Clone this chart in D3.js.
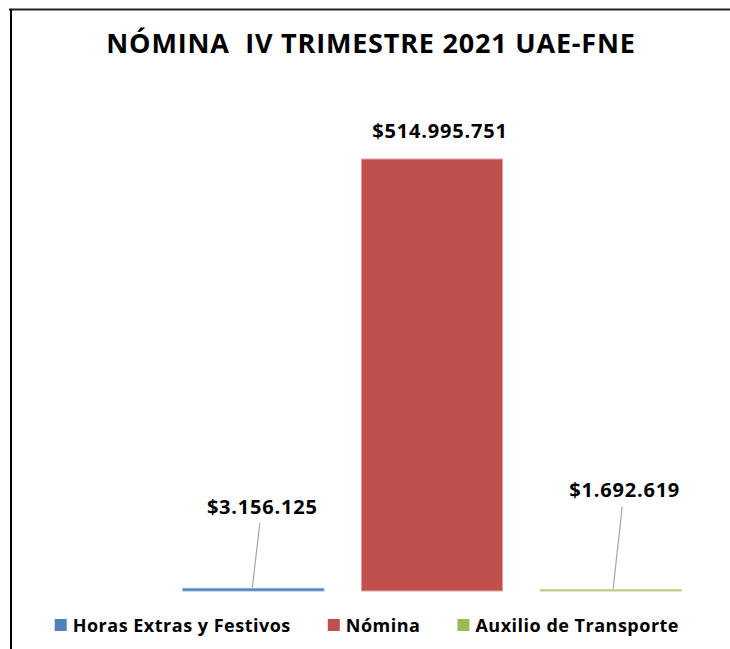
<html>

<body>
    <svg id='viz'></svg>
</body>
<style>
    body {
        margin: 0;
        background: #fff;
    }

    svg {
        display: block;
    }

    text {
        font-family: 'Open Sans', sans-serif;
        font-weight: bold;
        fill: #000;
        white-space: pre;
    }
</style>
<script src='https://d3js.org/d3.v7.min.js'></script>
<script>
    var width = 730;
    var height = 649;

    // chart data
    var categories = ["Horas Extras y Festivos", "Nómina", "Auxilio de Transporte"];
    var values = [3156125, 514995751, 1692619];
    var labels = ["$3.156.125", "$514.995.751", "$1.692.619"];
    var colors = ["#4F81BD", "#C0504D", "#9BBB59"];
    var outlines = ["#8FB0D9", "#E0A3A1", "#C3D89A"];
    var title = "NÓMINA  IV TRIMESTRE 2021 UAE-FNE";

    // manual label placement (offset from bar centre), like the Excel original
    var labelDx = [9, 8, 14];
    var labelY = [514, 138, 497];
    var leaderTop = [523, null, 507];
    var leaderFootDx = [-1, 0, 2.5];

    var svg = d3.select("#viz").attr("width", width).attr("height", height);

    // frame (only top and left edges are visible in the crop)
    svg.append("line").attr("x1", 9).attr("x2", width).attr("y1", 9.5).attr("y2", 9.5)
        .attr("stroke", "#222").attr("stroke-width", 2);
    svg.append("line").attr("x1", 11).attr("x2", 11).attr("y1", 9).attr("y2", height)
        .attr("stroke", "#000").attr("stroke-width", 2);

    svg.append("text")
        .attr("x", 371).attr("y", 53)
        .attr("text-anchor", "middle")
        .attr("xml:space", "preserve")
        .style("font-size", "27px")
        .style("letter-spacing", "0.8px")
        .text(title);

    var x = d3.scaleBand()
        .domain(categories)
        .range([164, 700])
        .paddingInner(0.21)
        .paddingOuter(0.105);

    var y = d3.scaleLinear()
        .domain([0, 600000000])
        .range([591, 87.7]);

    var data = categories.map(function (c, i) {
        return { cat: c, value: values[i], label: labels[i], color: colors[i], outline: outlines[i], i: i };
    });

    function mid(d) { return x(d.cat) + x.bandwidth() / 2; }

    svg.append("g").selectAll("rect")
        .data(data)
        .enter()
        .append("rect")
        .attr("x", function (d) { return x(d.cat); })
        .attr("width", x.bandwidth())
        .attr("y", function (d) { return y(d.value); })
        .attr("height", function (d) { return y(0) - y(d.value); })
        .attr("fill", function (d) { return d.color; })
        .attr("stroke", function (d) { return d.outline; })
        .attr("stroke-width", 1);

    // leader lines for labels pulled away from tiny bars
    svg.append("g").selectAll("line")
        .data(data.filter(function (d) { return leaderTop[d.i] != null; }))
        .enter()
        .append("line")
        .attr("x1", function (d) { return mid(d) + labelDx[d.i] - 2.5; })
        .attr("y1", function (d) { return leaderTop[d.i]; })
        .attr("x2", function (d) { return mid(d) + leaderFootDx[d.i]; })
        .attr("y2", function (d) { return y(d.value) - 1; })
        .attr("stroke", "#A6A6A6")
        .attr("stroke-width", 1.2);

    svg.append("g").selectAll("text")
        .data(data)
        .enter()
        .append("text")
        .attr("x", function (d) { return mid(d) + labelDx[d.i]; })
        .attr("y", function (d) { return labelY[d.i]; })
        .attr("text-anchor", "middle")
        .style("font-size", "20px")
        .style("letter-spacing", "0.8px")
        .text(function (d) { return d.label; });

    // legend
    var legend = svg.append("g");
    var items = legend.selectAll("g")
        .data(data)
        .enter()
        .append("g");

    items.append("rect")
        .attr("width", 12).attr("height", 12)
        .attr("y", -13)
        .attr("fill", function (d) { return d.color; });

    items.append("text")
        .attr("x", 18)
        .attr("y", 0)
        .style("font-size", "18px")
        .style("letter-spacing", "0.5px")
        .text(function (d) { return d.cat; });

    var gap = 37;
    var pos = 0;
    items.each(function () {
        var w = this.getBBox().width;
        d3.select(this).attr("transform", "translate(" + pos + ",0)");
        pos += w + gap;
    });
    var total = pos - gap;
    legend.attr("transform", "translate(" + (679 - total) + ",632)");
</script>

</html>
